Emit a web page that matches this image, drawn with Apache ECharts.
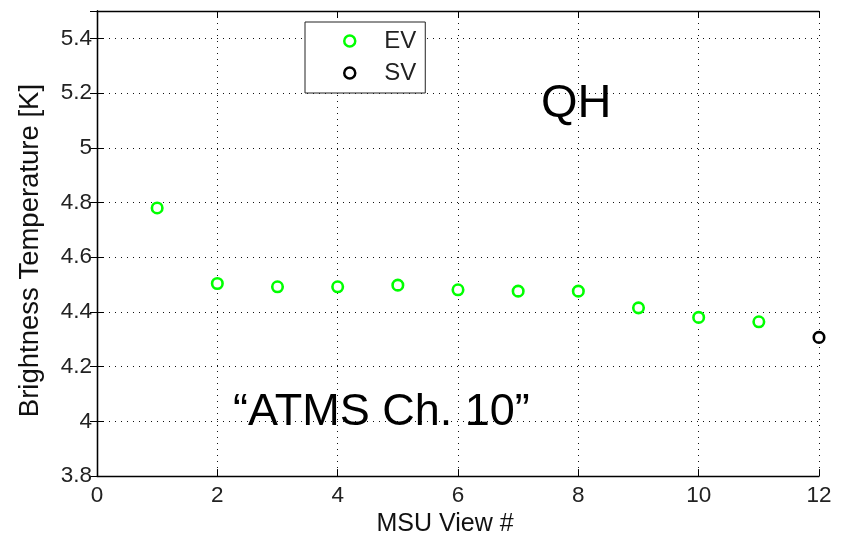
<!DOCTYPE html>
<html>
<head>
<meta charset="utf-8">
<script src="https://cdn.jsdelivr.net/npm/echarts@6/dist/echarts.min.js"></script>
<style>
  html, body { margin: 0; padding: 0; background: #fff; }
  #chart { width: 848px; height: 542px; }
</style>
</head>
<body>
<div id="chart"></div>
<script>
// ---- data ----
const evViews = [1, 2, 3, 4, 5, 6, 7, 8, 9, 10, 11];
const evValues = [4.78, 4.504, 4.492, 4.492, 4.498, 4.481, 4.476, 4.476, 4.415, 4.380, 4.364];
const svViews = [12];
const svValues = [4.307];
const seriesNames = ['EV', 'SV'];
const xAxisTitle = 'MSU View #';
const yAxisTitle = 'Brightness Temperature [K]';
const noteTopRight = 'QH';
const noteBottom = '\u201CATMS Ch. 10\u201D';

const FONT = "'Liberation Sans', Arial, sans-serif";
const GREEN = '#00ff00';
const BLACK = '#000000';

const chart = echarts.init(document.getElementById('chart'), null, { renderer: 'canvas' });

const splitLineStyle = { show: true, lineStyle: { color: '#111', width: 1, type: [1, 5] } };

function pairs(xs, ys) { return xs.map((x, i) => [x, ys[i]]); }

const option = {
  backgroundColor: '#fff',
  animation: false,
  grid: { left: 97, top: 11, right: 29, bottom: 63, containLabel: false },
  xAxis: [
    {
      type: 'value', min: 0, max: 12, interval: 2, position: 'bottom',
      name: xAxisTitle, nameLocation: 'middle', nameGap: 30,
      nameTextStyle: { fontFamily: FONT, fontSize: 25, color: '#111', padding: [0, 26, 0, 0] },
      axisLine: { show: true, lineStyle: { color: '#000', width: 1.3 } },
      axisTick: { show: true, inside: true, length: 7, lineStyle: { color: '#000' } },
      axisLabel: { fontFamily: FONT, fontSize: 22.5, color: '#222', margin: 8 },
      splitLine: splitLineStyle
    },
    {
      type: 'value', min: 0, max: 12, interval: 2, position: 'top',
      axisLine: { show: true, lineStyle: { color: '#000', width: 1.3 } },
      axisTick: { show: true, inside: true, length: 7, lineStyle: { color: '#000' } },
      axisLabel: { show: false },
      splitLine: { show: false }
    }
  ],
  yAxis: [
    {
      type: 'value', min: 3.8, max: 5.5, interval: 0.2, position: 'left',
      name: yAxisTitle, nameLocation: 'middle', nameGap: 53, nameRotate: 90,
      nameTextStyle: { fontFamily: FONT, fontSize: 27.5, color: '#111', padding: [0, 14, 0, 0] },
      axisLine: { show: true, lineStyle: { color: '#000', width: 1.3 } },
      axisTick: { show: true, inside: true, length: 7, lineStyle: { color: '#000' } },
      axisLabel: { fontFamily: FONT, fontSize: 22.5, color: '#222', margin: 5, showMaxLabel: false },
      splitLine: splitLineStyle
    },
    {
      type: 'value', min: 3.8, max: 5.5, interval: 0.2, position: 'right',
      axisLine: { show: true, lineStyle: { color: '#000', width: 1.3 } },
      axisTick: { show: true, inside: true, length: 7, lineStyle: { color: '#000' } },
      axisLabel: { show: false },
      splitLine: { show: false }
    }
  ],
  legend: {
    orient: 'vertical',
    left: 305, top: 22,
    padding: [7, 9, 8, 38],
    itemGap: 8,
    itemWidth: 11, itemHeight: 11,
    backgroundColor: '#fff',
    borderColor: '#222', borderWidth: 1, borderRadius: 0,
    textStyle: { fontFamily: FONT, fontSize: 24, color: '#222', lineHeight: 24, padding: [0, 0, 0, 24] },
    data: [
      { name: seriesNames[0], icon: 'circle', itemStyle: { color: '#fff', borderColor: GREEN, borderWidth: 2.5 } },
      { name: seriesNames[1], icon: 'circle', itemStyle: { color: '#fff', borderColor: BLACK, borderWidth: 2.5 } }
    ]
  },
  series: [
    {
      name: seriesNames[0], type: 'scatter', xAxisIndex: 0, yAxisIndex: 0,
      symbol: 'circle', symbolSize: 10.5, clip: false,
      itemStyle: { color: '#fff', borderColor: GREEN, borderWidth: 2.6, opacity: 1 },
      data: pairs(evViews, evValues), z: 5
    },
    {
      name: seriesNames[1], type: 'scatter', xAxisIndex: 0, yAxisIndex: 0,
      symbol: 'circle', symbolSize: 10.5, clip: false,
      itemStyle: { color: '#fff', borderColor: BLACK, borderWidth: 2.6, opacity: 1 },
      data: pairs(svViews, svValues), z: 5
    }
  ],
  graphic: [
    {
      type: 'text', left: 541, top: 81, z: 10,
      style: { text: noteTopRight, font: "47px " + FONT, fill: '#000' }
    },
    {
      type: 'text', left: 233, top: 390, z: 10,
      style: { text: noteBottom, font: "45px " + FONT, fill: '#000' }
    }
  ]
};

chart.setOption(option);
</script>
</body>
</html>
